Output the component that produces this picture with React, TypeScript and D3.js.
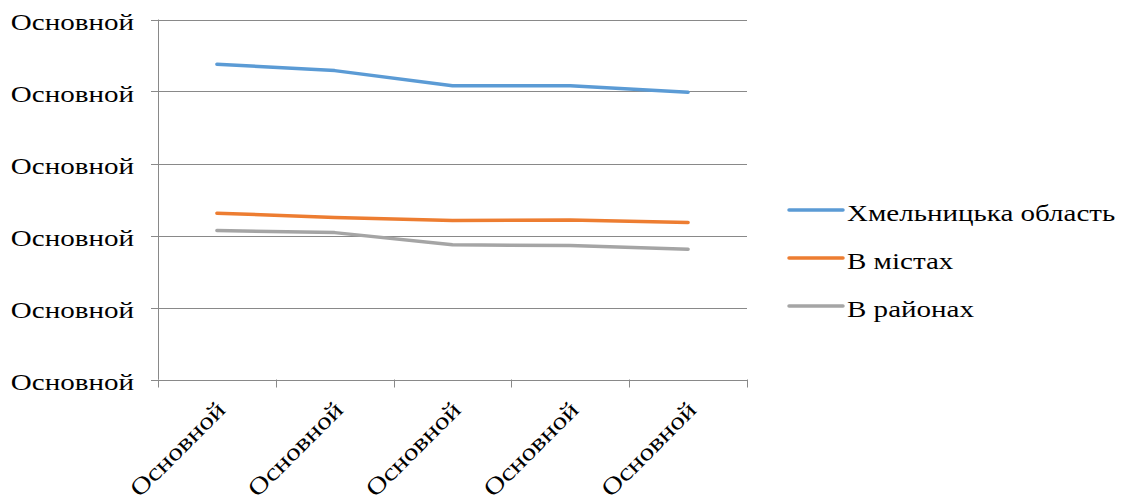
import React from "react";
import * as d3 from "d3";

const categories = ["Основной", "Основной", "Основной", "Основной", "Основной"];
const yTickLabels = ["Основной", "Основной", "Основной", "Основной", "Основной", "Основной"];
const yTicks = [0, 10, 20, 30, 40, 50];
const seriesNames = ["Хмельницька область", "В містах", "В районах"];
const oblast = [43.8, 42.9, 40.8, 40.8, 39.9];
const cities = [23.1, 22.5, 22.1, 22.15, 21.8];
const districts = [20.7, 20.4, 18.7, 18.6, 18.1];
const colors = ["#5B9BD5", "#ED7D31", "#A5A5A5"];

const W = 1133;
const H = 504;
const left = 158;
const right = 747;
const top = 19.5;
const bottom = 379.5;
const font = "'Liberation Serif', 'Times New Roman', serif";
const sx = 1.21;

export default function App() {
  const series = [oblast, cities, districts];
  const x = d3
    .scaleBand<number>()
    .domain(categories.map((_, i) => i))
    .range([left, right])
    .padding(0);
  const y = d3.scaleLinear().domain([0, 50]).range([bottom, top]);
  const line = d3
    .line<number>()
    .x((_, i) => (x(i) as number) + x.bandwidth() / 2)
    .y((d) => y(d));
  const xTickPositions = d3.range(categories.length + 1).map((i) => left + i * x.bandwidth());

  return (
    <svg
      width={W}
      height={H}
      style={{ position: "absolute", left: 0, top: 0, background: "#fff" }}
      fontFamily={font}
    >
      {yTicks.map((t, i) => (
        <g key={"g" + i}>
          <line
            x1={left - 7}
            x2={right}
            y1={Math.round(y(t)) + 0.5}
            y2={Math.round(y(t)) + 0.5}
            stroke="#898989"
            strokeWidth={1}
          />
          <text
            transform={`translate(134,${y(t) + 2}) scale(${sx},1)`}
            textAnchor="end"
            dominantBaseline="central"
            fontSize={24}
            fill="#000"
          >
            {yTickLabels[i]}
          </text>
        </g>
      ))}
      <line x1={left + 0.5} x2={left + 0.5} y1={top} y2={bottom} stroke="#898989" strokeWidth={1} />
      {xTickPositions.map((px, i) => (
        <line
          key={"xt" + i}
          x1={Math.round(px) + 0.5}
          x2={Math.round(px) + 0.5}
          y1={bottom}
          y2={bottom + 8}
          stroke="#898989"
          strokeWidth={1}
        />
      ))}
      {categories.map((c, i) => {
        const cx = (x(i) as number) + x.bandwidth() / 2 + 4;
        const cy = bottom + 26;
        return (
          <text
            key={"xl" + i}
            transform={`translate(${cx},${cy}) rotate(-45) scale(${sx},1)`}
            textAnchor="end"
            dominantBaseline="central"
            fontSize={24}
            fill="#000"
          >
            {c}
          </text>
        );
      })}
      {series.map((s, i) => (
        <path
          key={"s" + i}
          d={line(s) as string}
          fill="none"
          stroke={colors[i]}
          strokeWidth={3.5}
          strokeLinecap="round"
          strokeLinejoin="round"
        />
      ))}
      {seriesNames.map((n, i) => {
        const ly = 210 + i * 48;
        return (
          <g key={"lg" + i}>
            <line x1={789} x2={843} y1={ly} y2={ly} stroke={colors[i]} strokeWidth={3.5} strokeLinecap="round" />
            <text
              transform={`translate(847,${ly + 3}) scale(${sx},1)`}
              dominantBaseline="central"
              fontSize={24}
              fill="#000"
            >
              {n}
            </text>
          </g>
        );
      })}
    </svg>
  );
}
